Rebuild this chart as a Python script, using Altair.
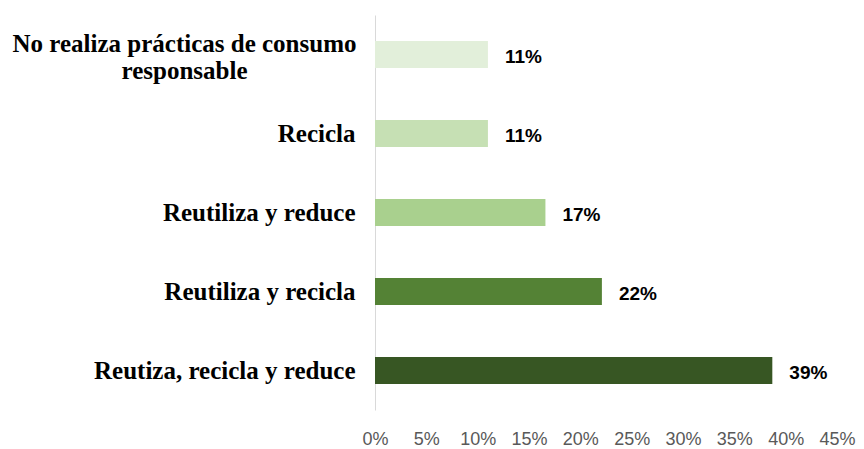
import altair as alt
import pandas as pd

categories = [
    "No realiza prácticas de consumo responsable",
    "Recicla",
    "Reutiliza y reduce",
    "Reutiliza y recicla",
    "Reutiza, recicla y reduce",
]
values = [0.11, 0.11, 0.166, 0.221, 0.387]
colors = ["#E2EFDA", "#C6E0B4", "#A9D08E", "#548235", "#375623"]
ticks = [0, 0.05, 0.1, 0.15, 0.2, 0.25, 0.3, 0.35, 0.4, 0.45]

df = pd.DataFrame({"cat": categories, "val": values, "color": colors})

long_label = categories[0]
label_expr = (
    "datum.value == '" + long_label + "' ? "
    "['No realiza prácticas de consumo', 'responsable'] : datum.value"
)
test = "datum.value == '" + long_label + "'"

y = alt.Y(
    "cat:N",
    sort=categories,
    title=None,
    scale=alt.Scale(paddingInner=0.66, paddingOuter=0.33),
    axis=alt.Axis(
        labelExpr=label_expr,
        labelFont="Liberation Serif",
        labelFontWeight="bold",
        labelFontSize=25,
        labelColor="#000000",
        labelAlign={"condition": {"test": test, "value": "center"}, "value": "right"},
        labelPadding={"condition": {"test": test, "value": 191}, "value": 20},
        labelOffset={"condition": {"test": test, "value": -11}, "value": 0},
        labelLineHeight=27,
        labelLimit=500,
        ticks=False,
        domainColor="#D9D9D9",
        domainWidth=1,
        grid=False,
    ),
)

x = alt.X(
    "val:Q",
    title=None,
    scale=alt.Scale(domain=[0, 0.45], nice=False),
    axis=alt.Axis(
        values=ticks,
        format=".0%",
        labelFont="Liberation Sans",
        labelFontSize=18,
        labelColor="#595959",
        labelPadding=20,
        labelOverlap=False,
        labelFlush=False,
        ticks=False,
        domain=False,
        grid=False,
    ),
)

bars = alt.Chart(df).mark_bar().encode(
    x=x, y=y, color=alt.Color("color:N", scale=None)
)

text = alt.Chart(df).mark_text(
    align="left", baseline="middle", dx=17, dy=2, font="Liberation Sans",
    fontWeight="bold", fontSize=19, color="#000000"
).encode(
    x="val:Q", y=alt.Y("cat:N", sort=categories), text=alt.Text("val:Q", format=".0%")
)

chart = (bars + text).properties(
    width=462, height=395,
    autosize=alt.AutoSizeParams(type="none"),
    padding={"left": 367, "top": 7, "right": 19, "bottom": 42},
).configure_view(stroke=None)

chart.save("out.html", embed_options={"renderer": "svg", "actions": False})
